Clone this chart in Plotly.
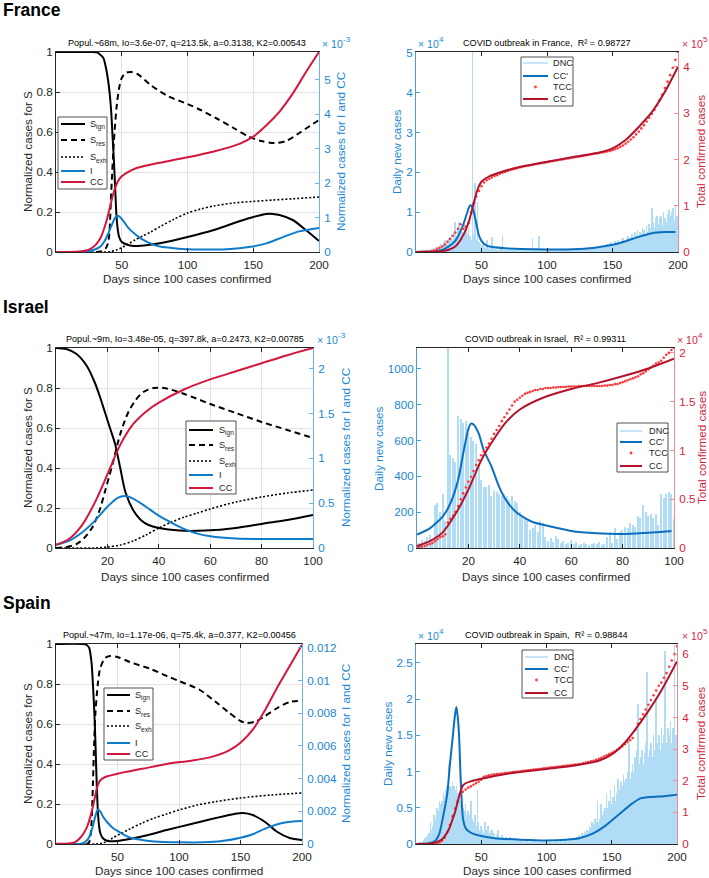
import plotly.graph_objects as go

W, H = 709, 878
FONT = "Liberation Sans, Arial, Helvetica, sans-serif"
DARK = "#262626"
BLUE_LINE = "#0E7CCB"
BLUE_TXT = "#1A87D3"
BLUE_AX = "#6DB3E6"
RED_LINE = "#D3173D"
DRED = "#B3122C"
RED_DOT = "#FF3A3A"
RED_TXT = "#D21E40"
RED_AX = "#EE8A9A"
BAR = "#B0DCF5"
GRID = "#E3E3E3"

# ======================= DATA =======================
COUNTRIES = ["France", "Israel", "Spain"]
MODEL_TITLES = [
    "Popul.~68m, Io=3.6e-07, q=213.5k, a=0.3138, K2=0.00543",
    "Popul.~9m, Io=3.48e-05, q=397.8k, a=0.2473, K2=0.00785",
    "Popul.~47m, Io=1.17e-06, q=75.4k, a=0.377, K2=0.00456",
]
FIT_TITLES = [
    "COVID outbreak in France,  R² = 0.98727",
    "COVID outbreak in Israel,  R² = 0.99311",
    "COVID outbreak in Spain,  R² = 0.98844",
]

# ---- France, model (S on left axis; I, CC in 1e-3 on right axis)
FR_SIGN_DAYS = [0, 28, 31, 33, 36, 38, 40, 41, 42, 43, 44, 45, 46, 47, 48, 50, 55, 60, 70, 80, 100, 120, 140, 150, 160, 165, 170, 180, 190, 200]
FR_SIGN = [1.0, 1.0, 0.998, 0.99, 0.97, 0.92, 0.84, 0.78, 0.7, 0.58, 0.46, 0.32, 0.18, 0.11, 0.075, 0.05, 0.035, 0.03, 0.035, 0.045, 0.075, 0.11, 0.155, 0.175, 0.19, 0.19, 0.185, 0.16, 0.11, 0.055]
FR_SRES_DAYS = [0, 34, 38, 40, 42, 44, 46, 48, 50, 53, 57, 62, 72, 85, 100, 110, 123, 135, 146, 156, 166, 175, 185, 193, 200]
FR_SRES = [0, 0.003, 0.02, 0.06, 0.3, 0.55, 0.72, 0.82, 0.87, 0.895, 0.9, 0.89, 0.835, 0.78, 0.74, 0.71, 0.665, 0.62, 0.578, 0.555, 0.545, 0.555, 0.595, 0.63, 0.66]
FR_SEXH_DAYS = [0, 38, 42, 46, 50, 55, 60, 66, 72, 80, 90, 100, 110, 120, 135, 150, 165, 180, 200]
FR_SEXH = [0, 0, 0.003, 0.01, 0.022, 0.04, 0.06, 0.08, 0.1, 0.13, 0.165, 0.195, 0.215, 0.23, 0.245, 0.253, 0.26, 0.266, 0.275]
FR_I_DAYS = [0, 20, 25, 30, 34, 37, 40, 43, 45, 47, 49, 52, 55, 60, 65, 70, 75, 80, 90, 100, 110, 130, 148, 160, 173, 185, 200]
FR_I = [0, 0.005, 0.03, 0.08, 0.17, 0.32, 0.56, 0.84, 1.0, 1.05, 1.0, 0.86, 0.7, 0.52, 0.38, 0.28, 0.2, 0.15, 0.11, 0.08, 0.07, 0.08, 0.15, 0.25, 0.44, 0.6, 0.7]
FR_CC_DAYS = [0, 15, 20, 25, 30, 34, 38, 41, 44, 47, 50, 55, 60, 70, 80, 100, 120, 140, 150, 160, 170, 180, 190, 200]
FR_CC = [0, 0.005, 0.02, 0.07, 0.2, 0.42, 0.85, 1.3, 1.75, 2.05, 2.2, 2.33, 2.42, 2.52, 2.6, 2.75, 2.92, 3.15, 3.35, 3.68, 4.08, 4.6, 5.22, 5.81]

# ---- France, fit (DNC, CC' in 1e4; TCC, CC in 1e5)
FR_DNC = [
    0.01, 0.01, 0.02, 0.02, 0.03, 0.02, 0.03, 0.04, 0.03, 0.05,
    0.05, 0.04, 0.08, 0.06, 0.1, 0.08, 0.12, 0.1, 0.15, 0.2,
    0.18, 0.25, 0.3, 0.22, 0.3, 0.35, 0.38, 0.45, 0.3, 0.5,
    0.75, 0.4, 0.6, 0.75, 0.45, 0.5, 0.35, 0.7, 0.55, 0.45,
    0.6, 0.4, 0.3, 5.5, 0.45, 1.72, 0.3, 1.25, 0.25, 0.2,
    0.15, 0.2, 0.12, 0.1, 0.3, 0.1, 0.08, 0.15, 0.38, 0.1,
    0.08, 0.1, 0.06, 0.05, 0.08, 0.1, 0.42, 0.06, 0.05, 0.04,
    0.05, 0.04, 0.06, 0.05, 0.04, 0.05, 0.06, 0.04, 0.05, 0.03,
    0.04, 0.05, 0.03, 0.04, 0.06, 0.05, 0.04, 0.05, 0.06, 0.35,
    0.05, 0.04, 0.06, 0.05, 0.4, 0.05, 0.04, 0.06, 0.05, 0.04,
    0.05, 0.06, 0.04, 0.05, 0.07, 0.05, 0.06, 0.04, 0.05, 0.06,
    0.05, 0.04, 0.06, 0.07, 0.05, 0.06, 0.08, 0.05, 0.07, 0.06,
    0.07, 0.08, 0.06, 0.05, 0.08, 0.07, 0.09, 0.06, 0.08, 0.1,
    0.08, 0.1, 0.07, 0.09, 0.12, 0.1, 0.08, 0.11, 0.13, 0.1,
    0.12, 0.14, 0.1, 0.15, 0.18, 0.13, 0.2, 0.16, 0.22, 0.25,
    0.18, 0.2, 0.28, 0.22, 0.3, 0.26, 0.2, 0.32, 0.35, 0.28,
    0.3, 0.36, 0.4, 0.32, 0.35, 0.45, 0.38, 0.5, 0.42, 0.55,
    0.4, 0.5, 0.45, 0.6, 0.55, 0.45, 0.65, 0.5, 0.7, 0.6,
    1.1, 0.75, 0.6, 0.85, 0.9, 0.7, 0.88, 0.9, 0.65, 1.0,
    0.85, 0.75, 0.95, 1.05, 0.9, 1.0, 1.1, 0.8, 1.15, 0.9,
    0.8,
]
FR_DCC_DAYS = [0, 10, 15, 20, 25, 30, 33, 36, 38, 40, 41, 42, 44, 46, 48, 50, 53, 56, 60, 70, 80, 100, 120, 135, 150, 160, 170, 180, 190, 198]
FR_DCC = [0, 0.01, 0.02, 0.05, 0.14, 0.28, 0.45, 0.68, 0.88, 1.08, 1.16, 1.17, 1.02, 0.72, 0.42, 0.28, 0.18, 0.14, 0.12, 0.09, 0.075, 0.065, 0.07, 0.1, 0.18, 0.27, 0.38, 0.47, 0.5, 0.5]
FR_TCC_STEP_DAYS = 2
FR_TCC = [
    0.0, 0.001, 0.002, 0.004, 0.007, 0.012, 0.02, 0.035, 0.07, 0.09,
    0.12, 0.16, 0.22, 0.28, 0.35, 0.42, 0.5, 0.6, 0.5, 0.55,
    0.62, 0.85, 1.05, 1.2, 1.32, 1.42, 1.5, 1.55, 1.58, 1.61,
    1.64, 1.66, 1.69, 1.71, 1.73, 1.75, 1.77, 1.79, 1.8, 1.82, 1.83, 1.85, 1.86, 1.87, 1.88, 1.89, 1.9, 1.91, 1.92, 1.93,
    1.94, 1.95, 1.96, 1.97, 1.98, 1.99, 2.0, 2.01, 2.02, 2.03, 2.04, 2.05, 2.06, 2.07, 2.08, 2.09, 2.1, 2.11, 2.12, 2.13,
    2.14, 2.15, 2.16, 2.17, 2.18, 2.2, 2.22, 2.24, 2.27, 2.3, 2.34, 2.38, 2.43, 2.48, 2.54, 2.6, 2.67, 2.74, 2.82, 2.9,
    2.98, 3.07, 3.17, 3.28, 3.4, 3.54, 3.68, 3.82, 3.98, 4.15, 4.32,
]
FR_CCF_DAYS = [0, 15, 20, 25, 30, 34, 38, 41, 44, 47, 50, 55, 60, 70, 80, 100, 120, 140, 150, 160, 170, 180, 190, 200]
FR_CCF = [0, 0.005, 0.02, 0.05, 0.12, 0.26, 0.48, 0.72, 1.05, 1.35, 1.52, 1.62, 1.68, 1.77, 1.84, 1.95, 2.05, 2.15, 2.24, 2.42, 2.7, 3.02, 3.46, 4.0]

# ---- Israel, model (I, CC in 1e-3)
IL_SIGN_DAYS = [0, 4, 8, 12, 15, 17, 19, 21, 23, 25, 27, 30, 33, 36, 40, 48, 58, 70, 82, 90, 100]
IL_SIGN = [1.0, 0.995, 0.97, 0.91, 0.83, 0.76, 0.68, 0.6, 0.52, 0.4, 0.28, 0.19, 0.14, 0.115, 0.1, 0.087, 0.087, 0.1, 0.125, 0.14, 0.165]
IL_SRES_DAYS = [0, 4, 8, 11, 14, 17, 19, 22, 25, 28, 31, 34, 38, 42, 50, 60, 70, 80, 90, 100]
IL_SRES = [0, 0.005, 0.02, 0.05, 0.1, 0.19, 0.28, 0.42, 0.57, 0.675, 0.74, 0.78, 0.8, 0.8, 0.77, 0.72, 0.675, 0.63, 0.59, 0.55]
IL_SEXH_DAYS = [0, 15, 20, 25, 30, 35, 40, 45, 50, 55, 60, 70, 80, 90, 100]
IL_SEXH = [0, 0, 0.005, 0.015, 0.035, 0.065, 0.1, 0.13, 0.155, 0.175, 0.195, 0.23, 0.255, 0.275, 0.29]
IL_I_DAYS = [0, 5, 10, 15, 20, 24, 27, 30, 35, 40, 45, 50, 55, 60, 70, 80, 90, 100]
IL_I = [0.035, 0.08, 0.17, 0.3, 0.46, 0.56, 0.58, 0.55, 0.46, 0.36, 0.28, 0.21, 0.16, 0.13, 0.105, 0.1, 0.1, 0.1]
IL_CC_DAYS = [0, 5, 10, 15, 20, 25, 30, 35, 40, 50, 60, 70, 80, 90, 100]
IL_CC = [0.035, 0.1, 0.25, 0.5, 0.82, 1.15, 1.38, 1.52, 1.62, 1.77, 1.88, 1.97, 2.06, 2.15, 2.23]

# ---- Israel, fit (DNC, CC' raw; TCC, CC in 1e4)
IL_DNC = [
    20, 30, 45, 40, 60, 70, 50, 240, 250, 200,
    300, 150, 1200, 520, 500, 480, 735, 720, 700, 710,
    640, 620, 600, 580, 470, 380, 340, 340, 350, 290,
    320, 310, 300, 290, 300, 290, 270, 290, 260, 250,
    200, 180, 160, 150, 100, 110, 130, 90, 150, 140,
    60, 40, 55, 35, 65, 50, 30, 40, 25, 30,
    45, 20, 35, 15, 25, 30, 20, 15, 25, 30,
    20, 35, 15, 25, 60, 90, 30, 110, 50, 90,
    100, 120, 110, 140, 130, 120, 180, 170, 240, 200,
    180, 190, 170, 190, 130, 300, 280, 300, 310, 300,
    160,
]
IL_DCC_DAYS = [0, 5, 10, 13, 16, 18, 20, 21, 22, 24, 26, 29, 32, 35, 39, 45, 53, 60, 70, 79, 90, 99]
IL_DCC = [75, 110, 175, 250, 380, 530, 665, 695, 690, 640, 545, 455, 340, 260, 195, 145, 117, 95, 82, 78, 85, 95]
IL_TCC_STEP_DAYS = 1
IL_TCC = [
    0.01, 0.012, 0.015, 0.02, 0.03, 0.04, 0.05, 0.07, 0.09, 0.11,
    0.12, 0.14, 0.26, 0.3, 0.33, 0.37, 0.43, 0.5, 0.56, 0.62,
    0.68, 0.73, 0.79, 0.85, 0.9, 0.95, 0.99, 1.03, 1.07, 1.12,
    1.17, 1.21, 1.25, 1.3, 1.34, 1.38, 1.42, 1.46, 1.5, 1.52,
    1.54, 1.56, 1.58, 1.59, 1.6, 1.61, 1.62, 1.62, 1.63, 1.63,
    1.64, 1.64, 1.64, 1.645, 1.645, 1.65, 1.65, 1.65, 1.65, 1.655,
    1.655, 1.655, 1.655, 1.66, 1.66, 1.66, 1.66, 1.66, 1.66, 1.66,
    1.66, 1.66, 1.66, 1.665, 1.665, 1.67, 1.67, 1.68, 1.68, 1.69,
    1.7, 1.71, 1.72, 1.73, 1.74, 1.75, 1.76, 1.78, 1.79, 1.81,
    1.83, 1.85, 1.87, 1.89, 1.9, 1.92, 1.95, 1.98, 2.0, 2.03,
    2.05,
]
IL_CCF_DAYS = [0, 5, 10, 15, 20, 25, 30, 35, 40, 50, 60, 70, 80, 90, 100]
IL_CCF = [0.02, 0.07, 0.16, 0.35, 0.6, 0.9, 1.12, 1.3, 1.42, 1.55, 1.63, 1.69, 1.76, 1.84, 1.94]

# ---- Spain, model (I, CC in absolute units)
ES_SIGN_DAYS = [0, 22, 25, 27, 28, 29, 30, 31, 32, 33, 34, 35, 36, 38, 42, 50, 60, 75, 90, 110, 130, 145, 152, 160, 170, 180, 190, 200]
ES_SIGN = [1.0, 1.0, 0.995, 0.98, 0.95, 0.9, 0.8, 0.68, 0.52, 0.32, 0.17, 0.09, 0.055, 0.03, 0.015, 0.015, 0.025, 0.045, 0.07, 0.1, 0.13, 0.15, 0.155, 0.145, 0.11, 0.06, 0.03, 0.02]
ES_SRES_DAYS = [0, 25, 27, 28, 29, 30, 31, 32, 34, 36, 40, 44, 50, 60, 77, 90, 100, 117, 130, 140, 150, 155, 162, 170, 180, 190, 200]
ES_SRES = [0, 0, 0.01, 0.04, 0.12, 0.3, 0.5, 0.65, 0.8, 0.88, 0.93, 0.94, 0.935, 0.91, 0.875, 0.84, 0.815, 0.77, 0.71, 0.66, 0.615, 0.605, 0.612, 0.64, 0.68, 0.71, 0.715]
ES_SEXH_DAYS = [0, 33, 38, 42, 46, 52, 60, 70, 80, 90, 100, 115, 130, 150, 175, 200]
ES_SEXH = [0, 0, 0.005, 0.015, 0.03, 0.05, 0.075, 0.105, 0.13, 0.15, 0.17, 0.195, 0.212, 0.23, 0.245, 0.255]
ES_I_DAYS = [0, 20, 23, 26, 28, 30, 32, 34, 36, 38, 42, 46, 50, 55, 60, 70, 80, 100, 120, 135, 150, 160, 172, 185, 200]
ES_I = [0, 0.00002, 0.0001, 0.0003, 0.0006, 0.0011, 0.0017, 0.0021, 0.002, 0.0017, 0.0013, 0.001, 0.0008, 0.00058, 0.0004, 0.00025, 0.00015, 0.0001, 0.0001, 0.00018, 0.00038, 0.0006, 0.001, 0.0013, 0.0014]
ES_CC_DAYS = [0, 15, 20, 25, 28, 30, 32, 34, 36, 40, 50, 70, 90, 110, 125, 140, 150, 160, 170, 180, 190, 200]
ES_CC = [0.00002, 0.0001, 0.0004, 0.001, 0.0017, 0.0023, 0.003, 0.0036, 0.0039, 0.0041, 0.0043, 0.0046, 0.0049, 0.0051, 0.0053, 0.0057, 0.0062, 0.007, 0.0082, 0.0096, 0.0109, 0.0122]

# ---- Spain, fit (DNC, CC' in 1e4; TCC, CC in 1e5)
ES_DNC = [
    0.005, 0.01, 0.01, 0.02, 0.02, 0.03, 0.05, 0.08, 0.1, 0.12,
    0.15, 0.3, 0.2, 0.25, 0.4, 0.35, 0.5, 0.45, 0.6, 0.55,
    0.6, 0.7, 0.65, 0.75, 0.8, 1.1, 0.8, 0.78, 0.85, 0.8,
    0.75, 0.8, 0.7, 0.65, 0.6, 0.55, 0.5, 0.45, 0.55, 0.4,
    0.45, 0.4, 0.6, 0.35, 0.3, 0.4, 0.25, 0.75, 0.3, 0.2,
    0.25, 0.2, 0.15, 0.3, 0.2, 0.25, 0.15, 0.18, 0.2, 0.12,
    0.15, 0.1, 0.12, 0.2, 0.1, 0.08, 0.12, 0.1, 0.07, 0.09,
    0.08, 0.06, 0.1, 0.05, 0.07, 0.06, 0.05, 0.08, 0.04, 0.05,
    0.06, 0.04, 0.05, 0.03, 0.04, 0.05, 0.03, 0.04, 0.03, 0.05,
    0.03, 0.04, 0.03, 0.02, 0.04, 0.03, 0.02, 0.03, 0.04, 0.02,
    0.03, 0.02, 0.03, 0.04, 0.03, 0.02, 0.03, 0.04, 0.03, 0.04,
    0.03, 0.05, 0.04, 0.03, 0.05, 0.06, 0.04, 0.05, 0.07, 0.05,
    0.06, 0.08, 0.06, 0.1, 0.08, 0.12, 0.1, 0.15, 0.12, 0.18,
    0.15, 0.2, 0.18, 0.25, 0.22, 0.3, 0.28, 0.35, 0.3, 0.6,
    0.3, 0.35, 0.55, 0.4, 0.45, 0.5, 0.7, 0.5, 0.6, 0.75,
    0.55, 0.65, 0.8, 0.6, 0.7, 0.9, 0.75, 0.85, 0.8, 0.95,
    0.85, 0.9, 1.0, 1.4, 0.9, 1.0, 1.1, 1.0, 1.2, 1.3,
    1.93, 1.1, 1.2, 1.3, 1.1, 1.25, 1.4, 2.37, 1.2, 1.3,
    1.4, 1.2, 1.5, 1.3, 2.0, 1.4, 1.5, 1.3, 1.6, 1.4,
    1.5, 2.66, 1.4, 1.6, 1.5, 1.7, 1.4, 1.6, 2.8, 1.5,
    1.3,
]
ES_DCC_DAYS = [0, 10, 15, 18, 21, 24, 26, 28, 30, 31, 32, 33, 34, 35, 36, 38, 40, 44, 50, 60, 80, 100, 115, 125, 135, 145, 155, 165, 172, 180, 190, 200]
ES_DCC = [0, 0.01, 0.05, 0.15, 0.4, 0.7, 1.1, 1.45, 1.8, 1.89, 1.75, 1.5, 1.0, 0.6, 0.35, 0.22, 0.18, 0.14, 0.11, 0.08, 0.06, 0.05, 0.06, 0.08, 0.14, 0.25, 0.4, 0.55, 0.63, 0.65, 0.66, 0.68]
ES_TCC_STEP_DAYS = 2
ES_TCC = [
    0.0, 0.0, 0.0, 0.001, 0.002, 0.004, 0.008, 0.015, 0.03, 0.05,
    0.1, 0.2, 0.38, 0.6, 0.88, 1.12, 1.35, 1.55, 1.65, 1.72,
    1.78, 1.82, 1.87, 1.92, 1.97, 2.03, 2.12, 2.15, 2.17, 2.19,
    2.2, 2.21, 2.22, 2.23, 2.24, 2.25, 2.26, 2.27, 2.28, 2.29, 2.3, 2.31, 2.32, 2.33, 2.34, 2.35, 2.36, 2.37, 2.38, 2.39,
    2.4, 2.41, 2.42, 2.43, 2.44, 2.45, 2.46, 2.47, 2.48, 2.49, 2.5, 2.51, 2.52, 2.53, 2.55, 2.57, 2.59, 2.61, 2.63, 2.66,
    2.69, 2.72, 2.76, 2.8, 2.84, 2.88, 2.92, 2.97, 3.02, 3.08, 3.15, 3.22, 3.28, 3.35, 3.6, 3.8, 3.95, 4.1, 4.25, 4.4,
    4.55, 4.7, 4.85, 5.0, 5.1, 5.25, 5.4, 5.6, 5.8, 6.0, 6.25,
]
ES_CCF_DAYS = [0, 10, 15, 20, 25, 28, 30, 32, 34, 36, 38, 42, 50, 70, 100, 120, 140, 150, 160, 167, 178, 188, 200]
ES_CCF = [0, 0.01, 0.05, 0.15, 0.45, 0.78, 1.02, 1.35, 1.65, 1.85, 1.92, 1.98, 2.06, 2.22, 2.37, 2.47, 2.63, 2.83, 3.2, 3.56, 4.2, 4.85, 5.77]

# axis setup per panel (pixel boxes measured on the reference)
PANELS = [
    dict(box=(56, 52, 319, 252), xr=[0, 200], xt=[50, 100, 150, 200], yl=[0, 1], ylt=[0, 0.2, 0.4, 0.6, 0.8, 1], yr=[0, 5.81], yrt=[0, 1, 2, 3, 4, 5], model=True),
    dict(box=(416, 52, 678, 252), xr=[0, 200], xt=[50, 100, 150, 200], yl=[0, 5.02], ylt=[0, 1, 2, 3, 4, 5], yr=[0, 4.32], yrt=[0, 1, 2, 3, 4], model=False),
    dict(box=(56, 348, 313, 548), xr=[0, 100], xt=[20, 40, 60, 80, 100], yl=[0, 1], ylt=[0, 0.2, 0.4, 0.6, 0.8, 1], yr=[0, 2.23], yrt=[0, 0.5, 1, 1.5, 2], model=True),
    dict(box=(417, 348, 674, 548), xr=[0, 100], xt=[20, 40, 60, 80, 100], yl=[0, 1117], ylt=[0, 200, 400, 600, 800, 1000], yr=[0, 2.05], yrt=[0, 0.5, 1, 1.5, 2], model=False),
    dict(box=(56, 644, 302, 844), xr=[0, 200], xt=[50, 100, 150, 200], yl=[0, 1], ylt=[0, 0.2, 0.4, 0.6, 0.8, 1], yr=[0, 0.01224], yrt=[0, 0.002, 0.004, 0.006, 0.008, 0.01, 0.012], model=True),
    dict(box=(416, 644, 677, 844), xr=[0, 200], xt=[50, 100, 150, 200], yl=[0, 2.76], ylt=[0, 0.5, 1, 1.5, 2, 2.5], yr=[0, 6.32], yrt=[0, 1, 2, 3, 4, 5, 6], model=False),
]


def X(p):
    return p / W


def Y(p):
    return 1 - p / H


def xname(k):
    return "x" if k == 1 else f"x{k}"


def yname(n):
    return "y" if n == 1 else f"y{n}"


fig = go.Figure()
shapes = []
annotations = []


def add(k, right, trace):
    trace.update(xaxis=xname(k), yaxis=yname(2 * k if right else 2 * k - 1), showlegend=False)
    fig.add_trace(trace)


def curve(days, vals, color, width=2, dash="solid", smooth=0.8):
    return go.Scatter(x=days, y=vals, mode="lines", hoverinfo="skip",
                      line=dict(color=color, width=width, dash=dash, shape="spline", smoothing=smooth))


DASH = "6px,4px"
DOT = "2px,2px"

MODEL = [
    (FR_SIGN_DAYS, FR_SIGN, FR_SRES_DAYS, FR_SRES, FR_SEXH_DAYS, FR_SEXH, FR_I_DAYS, FR_I, FR_CC_DAYS, FR_CC),
    (IL_SIGN_DAYS, IL_SIGN, IL_SRES_DAYS, IL_SRES, IL_SEXH_DAYS, IL_SEXH, IL_I_DAYS, IL_I, IL_CC_DAYS, IL_CC),
    (ES_SIGN_DAYS, ES_SIGN, ES_SRES_DAYS, ES_SRES, ES_SEXH_DAYS, ES_SEXH, ES_I_DAYS, ES_I, ES_CC_DAYS, ES_CC),
]
FIT = [
    (FR_DNC, FR_DCC_DAYS, FR_DCC, FR_TCC_STEP_DAYS, FR_TCC, FR_CCF_DAYS, FR_CCF),
    (IL_DNC, IL_DCC_DAYS, IL_DCC, IL_TCC_STEP_DAYS, IL_TCC, IL_CCF_DAYS, IL_CCF),
    (ES_DNC, ES_DCC_DAYS, ES_DCC, ES_TCC_STEP_DAYS, ES_TCC, ES_CCF_DAYS, ES_CCF),
]

for r in range(3):
    km, kf = 2 * r + 1, 2 * r + 2
    sd, s, rd, rs, ed, es, idd, iv, cd, cv = MODEL[r]
    add(km, False, curve(sd, s, "black"))
    add(km, False, curve(rd, rs, "black", dash=DASH))
    add(km, False, curve(ed, es, "black", dash=DOT, width=1.6))
    add(km, True, curve(idd, iv, BLUE_LINE))
    add(km, True, curve(cd, cv, RED_LINE))

    dnc, dd, dv, step, tcc, fd, fv = FIT[r]
    add(kf, False, go.Bar(x=list(range(len(dnc))), y=dnc, width=0.5, marker=dict(color=BAR, line=dict(width=0)), hoverinfo="skip"))
    add(kf, False, curve(dd, dv, "#0B6FBF", smooth=0.6))
    add(kf, True, go.Scatter(x=[i * step for i in range(len(tcc))], y=tcc, mode="markers", hoverinfo="skip",
                             marker=dict(color=RED_DOT, size=2.6, line=dict(width=0))))
    add(kf, True, curve(fd, fv, DRED))

layout = dict(
    width=W, height=H, margin=dict(l=0, r=0, t=0, b=0, pad=0, autoexpand=False),
    paper_bgcolor="white", plot_bgcolor="white", showlegend=False,
    font=dict(family=FONT, size=11.7, color=DARK), bargap=0,
)

for i, p in enumerate(PANELS):
    k = i + 1
    x0, y0, x1, y1 = p["box"]
    model = p["model"]
    layout["xaxis" if k == 1 else f"xaxis{k}"] = dict(
        domain=[X(x0), X(x1)], anchor=yname(2 * k - 1), range=p["xr"], tickvals=p["xt"],
        ticks="inside", ticklen=4, tickcolor=DARK, showline=True, linecolor=DARK, linewidth=1,
        mirror="ticks", showgrid=model, gridcolor=GRID, zeroline=False, ticklabelstandoff=2,
        automargin=False, tickfont=dict(size=11.7, color=DARK))
    lcol = DARK if model else "#4F9AD3"
    ltxt = DARK if model else BLUE_TXT
    layout["yaxis" if k == 1 else f"yaxis{2 * k - 1}"] = dict(
        domain=[Y(y1), Y(y0)], anchor=xname(k), range=p["yl"], tickvals=p["ylt"],
        ticks="inside", ticklen=4, tickcolor=lcol, showline=True, linecolor=lcol, linewidth=1,
        showgrid=model, gridcolor=GRID, zeroline=False, automargin=False,
        tickfont=dict(size=11.7, color=ltxt))
    rcol = BLUE_AX if model else RED_AX
    rtxt = BLUE_TXT if model else RED_TXT
    layout[f"yaxis{2 * k}"] = dict(
        overlaying=yname(2 * k - 1), side="right", anchor=xname(k), range=p["yr"], tickvals=p["yrt"],
        ticks="inside", ticklen=4, tickcolor=rcol, showline=True, linecolor=rcol, linewidth=1,
        showgrid=False, zeroline=False, ticklabelstandoff=2, automargin=False,
        tickfont=dict(size=11.7, color=rtxt))


def ann(x, y, text, size=11.7, color=DARK, angle=0, xanchor="center", yanchor="middle"):
    annotations.append(dict(xref="paper", yref="paper", x=X(x), y=Y(y), text=text, showarrow=False,
                            textangle=angle, xanchor=xanchor, yanchor=yanchor,
                            font=dict(size=size, color=color, family=FONT)))


def exponent(x, y, power, color):
    ann(x, y + 1, "× 10", size=10.5, color=color, xanchor="left")
    ann(x + 21, y - 4, power, size=8, color=color, xanchor="left")


# country headers
for name, yy in zip(COUNTRIES, [10, 307, 603]):
    ann(1, yy, f"<b>{name}</b>", size=17.5, color="black", xanchor="left")

# titles, axis titles, exponents
title_y = [43, 339, 635]
xt_y = [278, 576, 870]
yright_model = [340, 345, 345]
yleft_fit = [396, 378, 387]
yright_fit = [700, 701, 700]
for r in range(3):
    pm, pf = PANELS[2 * r], PANELS[2 * r + 1]
    mx0, my0, mx1, my1 = pm["box"]
    fx0, fy0, fx1, fy1 = pf["box"]
    ann((mx0 + mx1) / 2, title_y[r], MODEL_TITLES[r], size=9.1, color="black")
    ann((fx0 + fx1) / 2, title_y[r], FIT_TITLES[r], size=9.1, color="black")
    ann((mx0 + mx1) / 2, xt_y[r], "Days since 100 cases confirmed")
    ann((fx0 + fx1) / 2, xt_y[r], "Days since 100 cases confirmed")
    ann(27, (my0 + my1) / 2, "Normalized cases for S", angle=-90)
    ann(yright_model[r], (my0 + my1) / 2, "Normalized cases for I and CC", angle=-90, color=BLUE_TXT)
    ann(yleft_fit[r], (fy0 + fy1) / 2, "Daily new cases", angle=-90, color=BLUE_TXT)
    ann(yright_fit[r], (fy0 + fy1) / 2, "Total confirmed cases", angle=-90, color=RED_TXT)

exponent(320, 43, "-3", BLUE_TXT)
exponent(315, 339, "-3", BLUE_TXT)
exponent(416, 43, "4", BLUE_TXT)
exponent(680, 43, "5", RED_TXT)
exponent(675, 339, "4", RED_TXT)
exponent(416, 635, "4", BLUE_TXT)
exponent(680, 635, "5", RED_TXT)


def legend(box, lx0, lx1, tx, items):
    x0, y0, x1, y1 = box
    shapes.append(dict(type="rect", xref="paper", yref="paper", x0=X(x0), x1=X(x1), y0=Y(y1), y1=Y(y0),
                       line=dict(color=DARK, width=0.8), fillcolor="white", layer="above"))
    for yy, kind, color, width, dash, label, sub in items:
        if kind == "dot":
            cx = (lx0 + lx1) / 2
            shapes.append(dict(type="circle", xref="paper", yref="paper", x0=X(cx - 1.4), x1=X(cx + 1.4),
                               y0=Y(yy + 1.4), y1=Y(yy - 1.4), fillcolor=color, line=dict(width=0), layer="above"))
        else:
            shapes.append(dict(type="line", xref="paper", yref="paper", x0=X(lx0), x1=X(lx1), y0=Y(yy), y1=Y(yy),
                               line=dict(color=color, width=width, dash=dash), layer="above"))
        ann(tx, yy, label, size=9.2, color=DARK, xanchor="left")
        if sub:
            ann(tx + 6.4, yy + 3.2, sub, size=6.6, color=DARK, xanchor="left")


def model_items(ys):
    return [
        (ys[0], "line", "black", 2, "solid", "S", "ign"),
        (ys[1], "line", "black", 2, DASH, "S", "res"),
        (ys[2], "line", "black", 1.6, DOT, "S", "exh"),
        (ys[3], "line", BLUE_LINE, 2, "solid", "I", ""),
        (ys[4], "line", RED_LINE, 2, "solid", "CC", ""),
    ]


def fit_items(ys):
    return [
        (ys[0], "line", "#8CCDF2", 1, "solid", "DNC", ""),
        (ys[1], "line", "#0B6FBF", 2, "solid", "CC'", ""),
        (ys[2], "dot", RED_DOT, 0, "solid", "TCC", ""),
        (ys[3], "line", DRED, 2, "solid", "CC", ""),
    ]


legend((58, 117, 107, 189), 61, 85, 88, model_items([124, 140, 157, 171, 182]))
legend((186, 421, 236, 494), 189, 213, 217, model_items([430, 445, 461, 475, 488]))
legend((104, 688, 153, 760), 107, 130, 133, model_items([695, 711, 726, 743, 754]))
legend((521, 57, 573, 106), 523, 548, 551, fit_items([63, 76, 87, 99]))
legend((617, 423, 668, 472), 620, 642, 647, fit_items([431, 442, 453, 466]))
legend((522, 650, 573, 698), 525, 548, 552, fit_items([657, 669, 680, 693]))

layout["shapes"] = shapes
layout["annotations"] = annotations
fig.update_layout(**layout)
fig.write_html(
    "out.html",
    config={"displayModeBar": False},
    post_script=(
        "var s=document.documentElement.style;s.margin='0';s.padding='0';s.overflow='hidden';"
        "var b=document.body.style;b.margin='0';b.padding='0';b.overflow='hidden';"
    ),
)
